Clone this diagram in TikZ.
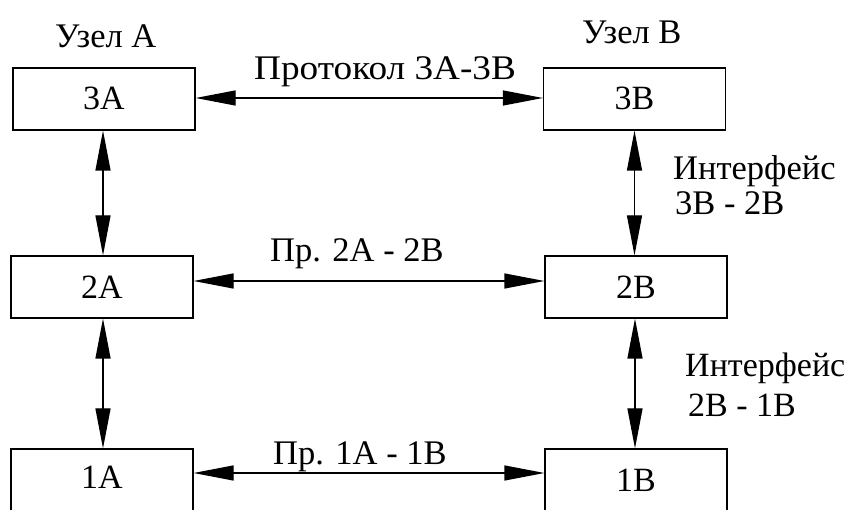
\documentclass[tikz,border=0pt]{standalone}
\usepackage{fontspec}
\setmainfont{Liberation Serif}
\usetikzlibrary{arrows.meta}
\newcommand{\wide}[2]{\scalebox{#1}[1]{#2}}
\begin{document}
\begin{tikzpicture}[x=1pt,y=-1pt,
  layer/.style={draw=black, line width=1.2pt, rectangle, minimum width=182pt,
    minimum height=62pt, inner sep=0pt, font=\rmfamily\fontsize{34}{38}\selectfont},
  lbl/.style={anchor=base west, inner sep=0pt, font=\rmfamily\fontsize{34.5}{38}\selectfont},
  head/.style={Triangle[length=40pt,width=15pt,line join=miter]},
  link/.style={line width=1.2pt, {Triangle[length=40pt,width=15pt]}-{Triangle[length=40pt,width=15pt]}}]
  \useasboundingbox (0,0) rectangle (847,510);
  \clip (0,0) rectangle (847,510);

  % node A column
  \node[layer] (a3) at (104,99) {\raisebox{1pt}{3A}};
  \node[layer] (a2) at (102,287) {2A};
  \node[layer] (a1) at (102,480) {\raisebox{6pt}{1A}};
  % node B column
  \node[layer] (b3) at (634.5,99) {\raisebox{1pt}{3B}};
  \node[layer] (b2) at (636,287) {2B};
  \node[layer] (b1) at (636,480) {\raisebox{-2pt}{1B}};

  % headings
  \node[lbl] (ha) at (55,48) {Узел А};
  \node[lbl] (hb) at (582,44) {Узел В};

  % peer protocols
  \draw[link] ([yshift=1pt]a3.east) -- ([yshift=1pt]b3.west);
  \draw[link] ([yshift=6pt]a2.east) -- ([yshift=6pt]b2.west);
  \draw[link] ([yshift=7pt]a1.east) -- ([yshift=7pt]b1.west);
  \node[lbl] (p3) at (254,80) {\wide{1.08}{Протокол 3А-3В}};
  \node[lbl] (p2) at (270,262) {Пр. 2А - 2В};
  \node[lbl] (p1) at (273,465) {Пр. 1А - 1В};

  % interfaces between layers
  \draw[link] ([xshift=-1pt]a3.south) -- ([xshift=-1pt]a3.south |- a2.north);
  \draw[link] ([xshift=1pt]a2.south) -- ([xshift=1pt]a2.south |- a1.north);
  \draw[link] (b3.south) -- (b3.south |- b2.north);
  \draw[link] ([xshift=-1pt]b2.south) -- ([xshift=-1pt]b2.south |- b1.north);
  \node[lbl] (i3) at (673,180) {Интерфейс};
  \node[lbl] (i3b) at (675,215) {3В - 2В};
  \node[lbl, font=\rmfamily\fontsize{34}{38}\selectfont] (i2) at (685,377) {Интерфейс};
  \node[lbl, font=\rmfamily\fontsize{34}{38}\selectfont] (i2b) at (688,417) {2В - 1В};
\end{tikzpicture}
\end{document}
